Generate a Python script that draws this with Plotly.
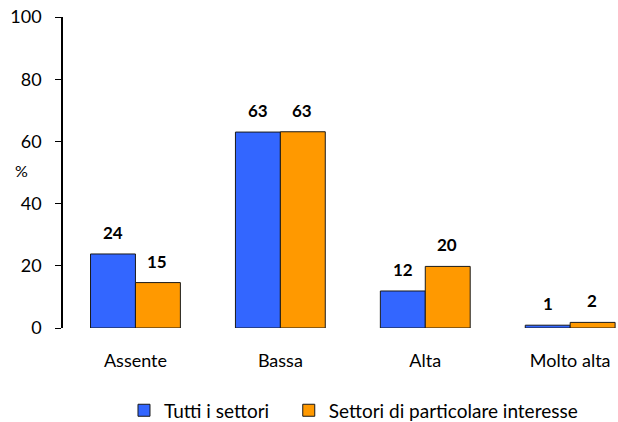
import plotly.graph_objects as go

categorie = ['Assente', 'Bassa', 'Alta', 'Molto alta']
tutti_settori = [23.8, 63.0, 11.9, 0.9]
settori_interesse = [14.6, 63.1, 19.8, 1.8]
serie_nomi = ['Tutti i settori', 'Settori di particolare interesse']
colori = ['#3366FF', '#FF9900']

FONT = 'Lato'

fig = go.Figure()
for i, (nome, valori, colore) in enumerate(zip(serie_nomi, [tutti_settori, settori_interesse], colori)):
    # un po' di spazio dopo la prima voce di legenda
    etichetta = nome + '\u00a0' * 3 if i == 0 else nome
    fig.add_trace(go.Bar(
        name=etichetta, x=categorie, y=valori,
        marker=dict(color=colore, line=dict(color='#1a1a1a', width=1)),
    ))

# etichette sopra le barre (valori arrotondati)
annotazioni = []
for valori, shift in [(tutti_settori, -22), (settori_interesse, 22)]:
    for cat, v in zip(categorie, valori):
        annotazioni.append(dict(
            x=cat, y=v, text='<b>%d</b>' % round(v), showarrow=False,
            xshift=shift, yshift=9, yanchor='bottom',
            font=dict(family=FONT, size=17, color='black'),
        ))
# simbolo % accanto all'asse
annotazioni.append(dict(
    xref='x domain', yref='y domain', x=-0.075, y=(328 - 170) / 311,
    text='%', showarrow=False, xanchor='center', yanchor='middle',
    font=dict(family=FONT, size=16, color='black'),
))

fig.update_layout(
    width=618, height=422,
    margin=dict(l=63, r=0, t=17, b=94, autoexpand=False),
    paper_bgcolor='white', plot_bgcolor='white',
    barmode='group', bargap=0.38, bargroupgap=0,
    font=dict(family=FONT, size=17, color='black'),
    showlegend=True,
    legend=dict(orientation='h', x=0.1099, xanchor='left', y=-0.265, yanchor='middle',
                font=dict(family=FONT, size=19, color='black'), itemwidth=30),
    annotations=annotazioni,
)
fig.update_xaxes(range=[-0.5, 3.33], showline=False, ticks='', showgrid=False,
                 automargin=False, ticklabelstandoff=20,
                 tickfont=dict(family=FONT, size=18, color='black'))
fig.update_yaxes(range=[0, 100], dtick=20, showgrid=False, zeroline=False,
                 automargin=False, ticklabelstandoff=10,
                 showline=True, linecolor='black', linewidth=1.5,
                 ticks='outside', ticklen=6, tickcolor='black', tickwidth=1,
                 tickfont=dict(family=FONT, size=18, color='black'))

fig.write_html('out.html', config={'displayModeBar': False},
               post_script="document.body.style.margin='0';")
